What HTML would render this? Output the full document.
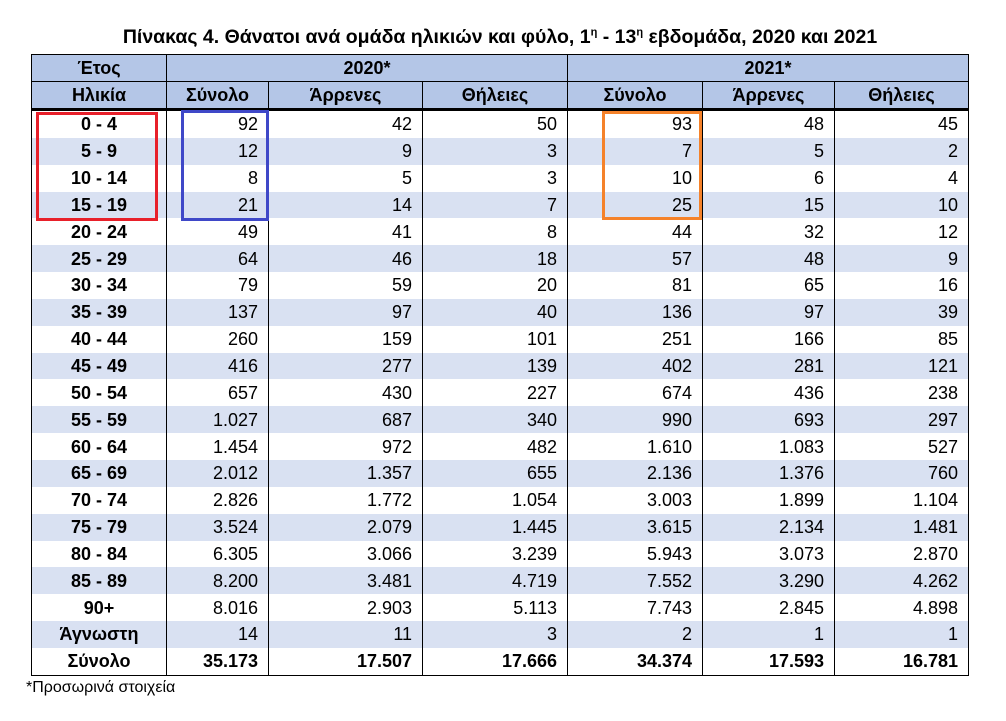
<!DOCTYPE html>
<html><head><meta charset="utf-8"><style>
body{margin:0;width:1006px;height:721px;background:#fff;font-family:"Liberation Sans",sans-serif;position:relative;overflow:hidden;color:#000}
#title{position:absolute;left:0;width:1000px;top:26px;text-align:center;font-weight:bold;font-size:19.5px}
table{position:absolute;left:31px;top:54px;border-collapse:collapse;table-layout:fixed}
td{padding:0 10px;font-size:18px;height:26.85px;line-height:26px;text-align:right;border-left:1.5px solid #000;border-right:1.5px solid #000;white-space:nowrap}
td.a{text-align:center;font-weight:bold}
tr.h td{background:#b4c6e7;text-align:center;font-weight:bold;border:1.5px solid #000;height:26px}
tr.h2 td{border-bottom:3px solid #000}
tr.s td{background:#d9e1f2}
tr.t td{font-weight:bold;border-bottom:1.5px solid #000}
.box{position:absolute;border:3.5px solid;box-sizing:border-box}
#foot{position:absolute;left:26px;top:679px;font-size:16px}
</style></head><body>
<div id="title">Πίνακας 4. Θάνατοι ανά ομάδα ηλικιών και φύλο, 1<sup style="font-size:11px">η</sup> - 13<sup style="font-size:11px">η</sup> εβδομάδα, 2020 και 2021</div>
<table>
<colgroup><col style="width:135px"><col style="width:102px"><col style="width:154px"><col style="width:145px"><col style="width:135px"><col style="width:132px"><col style="width:134px"></colgroup>
<tr class="h"><td>Έτος</td><td colspan="3">2020*</td><td colspan="3">2021*</td></tr>
<tr class="h h2"><td>Ηλικία</td><td>Σύνολο</td><td>Άρρενες</td><td>Θήλειες</td><td>Σύνολο</td><td>Άρρενες</td><td>Θήλειες</td></tr>
<tbody id="body"></tbody>
</table>
<div class="box" style="left:36px;top:112px;width:122px;height:109px;border-color:#e8202a"></div>
<div class="box" style="left:181px;top:110px;width:88px;height:111px;border-color:#3f48c8"></div>
<div class="box" style="left:602px;top:111px;width:100px;height:109px;border-color:#f5822a"></div>
<div id="foot">*Προσωρινά στοιχεία</div>
<script>
const ages=["0 - 4","5 - 9","10 - 14","15 - 19","20 - 24","25 - 29","30 - 34","35 - 39","40 - 44","45 - 49","50 - 54","55 - 59","60 - 64","65 - 69","70 - 74","75 - 79","80 - 84","85 - 89","90+","Άγνωστη","Σύνολο"];
const total2020=["92","12","8","21","49","64","79","137","260","416","657","1.027","1.454","2.012","2.826","3.524","6.305","8.200","8.016","14","35.173"];
const male2020=["42","9","5","14","41","46","59","97","159","277","430","687","972","1.357","1.772","2.079","3.066","3.481","2.903","11","17.507"];
const female2020=["50","3","3","7","8","18","20","40","101","139","227","340","482","655","1.054","1.445","3.239","4.719","5.113","3","17.666"];
const total2021=["93","7","10","25","44","57","81","136","251","402","674","990","1.610","2.136","3.003","3.615","5.943","7.552","7.743","2","34.374"];
const male2021=["48","5","6","15","32","48","65","97","166","281","436","693","1.083","1.376","1.899","2.134","3.073","3.290","2.845","1","17.593"];
const female2021=["45","2","4","10","12","9","16","39","85","121","238","297","527","760","1.104","1.481","2.870","4.262","4.898","1","16.781"];
const tb=document.getElementById('body');
ages.forEach((a,i)=>{
  const tr=document.createElement('tr');
  
  
  if(i%2==1)tr.className='s';
  if(i==ages.length-1)tr.className+=' t';
  const vals=[a,total2020[i],male2020[i],female2020[i],total2021[i],male2021[i],female2021[i]];
  vals.forEach((v,j)=>{
    const td=document.createElement('td');
    
    
    if(j==0)td.className='a';
    td.textContent=v;
    tr.appendChild(td);
  });
  tb.appendChild(tr);
});
</script>
</body></html>
